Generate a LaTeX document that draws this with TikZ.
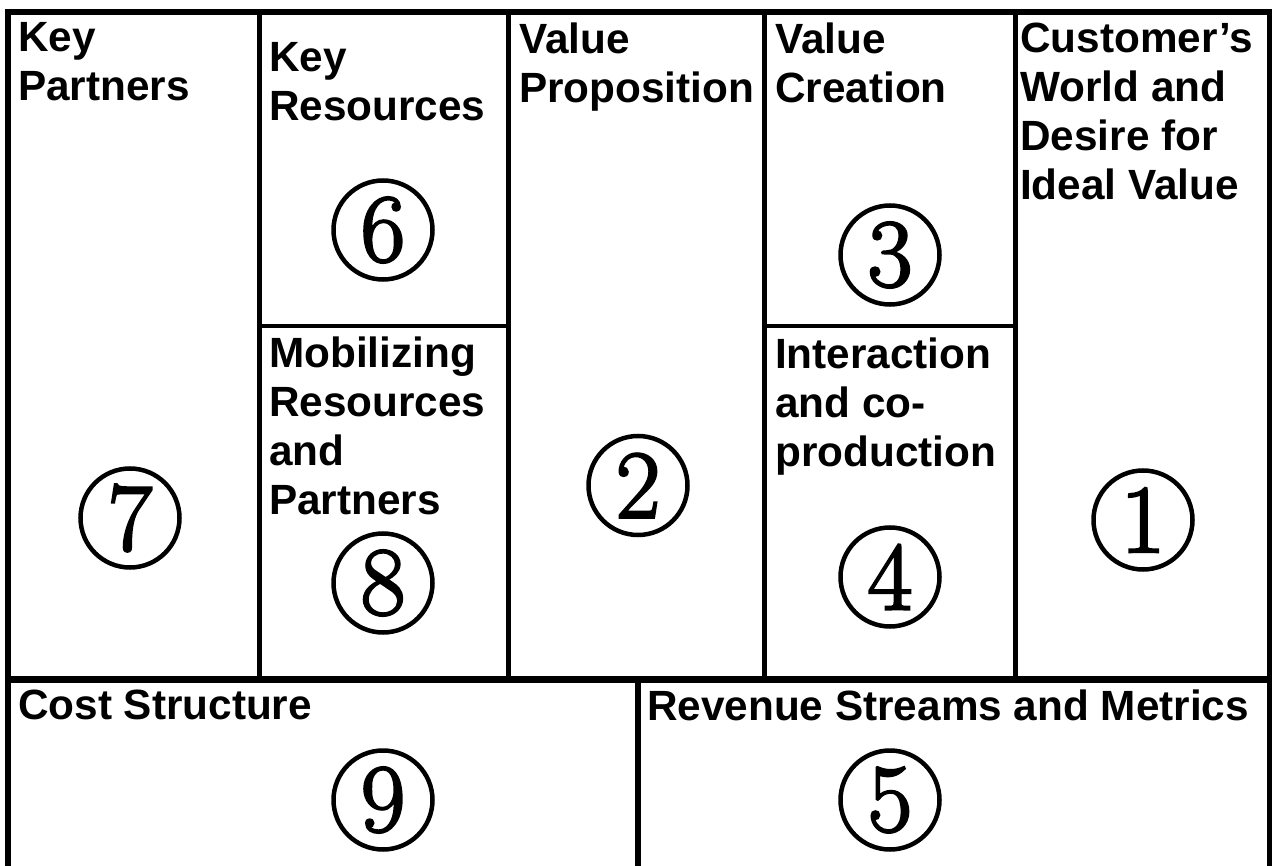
\documentclass[tikz,border=0pt]{standalone}
\usepackage{fontspec}
\newfontfamily\cellfont{Liberation Sans}
\newfontfamily\numfont{Latin Modern Roman}[FakeBold=2.5]
\usepackage{tikz}

\tikzset{
    cell/.style = {anchor=north west, inner sep=0pt, align=left,
        font=\cellfont\bfseries\fontsize{42.3}{49}\selectfont},
    num/.style = {circle, draw, line width=4.5pt, minimum size=99pt,
        inner sep=0pt, font=\numfont\fontsize{97}{97}\selectfont}
}

\begin{document}
\begin{tikzpicture}[x=1pt, y=-1pt]
        \useasboundingbox (0, 0) rectangle (1272, 866);

        % frame and grid
        \draw[line width=6pt] (8, 880) -- (8, 12.5) -- (1269.5, 12.5) -- (1269.5, 880);
        \draw[line width=6.5pt] (8, 679.5) -- (1269.5, 679.5);
        \draw[line width=6pt] (637.5, 679.5) -- (637.5, 880);
        \draw[line width=4.7pt] (259.5, 12.5) -- (259.5, 679.5);
        \draw[line width=4.7pt] (508.5, 12.5) -- (508.5, 679.5);
        \draw[line width=4.7pt] (764.5, 12.5) -- (764.5, 679.5);
        \draw[line width=4.7pt] (1015.5, 12.5) -- (1015.5, 679.5);
        \draw[line width=4.5pt] (259.5, 326) -- (508.5, 326);
        \draw[line width=4.5pt] (764.5, 326) -- (1015.5, 326);

        % block titles
        \node[cell] (partners) at (18, 22.5) {Key\\Partners};
        \node[cell] (resources) at (269, 42) {Key\\Resources};
        \node[cell] (proposition) at (519, 22.5) {Value\\Proposition};
        \node[cell] (creation) at (775, 22.5) {Value\\Creation};
        \node[cell] (customer) at (1020, 22.5) {Customer’s\\World and\\Desire for\\Ideal Value};
        \node[cell] (mobilizing) at (269, 337) {Mobilizing\\Resources\\and\\Partners};
        \node[cell] (interaction) at (775, 338) {Interaction\\and co-\\production};
        \node[cell] (cost) at (18, 690) {Cost Structure};
        \node[cell] (revenue) at (647, 690) {Revenue Streams and Metrics};

        % circled numbers
        \node[num] (one) at (1143, 520) {1};
        \node[num] (two) at (638, 485.5) {2};
        \node[num] (three) at (890, 255) {3};
        \node[num] (four) at (890, 577) {4};
        \node[num] (five) at (890, 800) {5};
        \node[num] (six) at (383, 230) {6};
        \node[num] (seven) at (130, 518) {7};
        \node[num] (eight) at (383, 583) {8};
        \node[num] (nine) at (383, 800) {9};
\end{tikzpicture}
\end{document}
